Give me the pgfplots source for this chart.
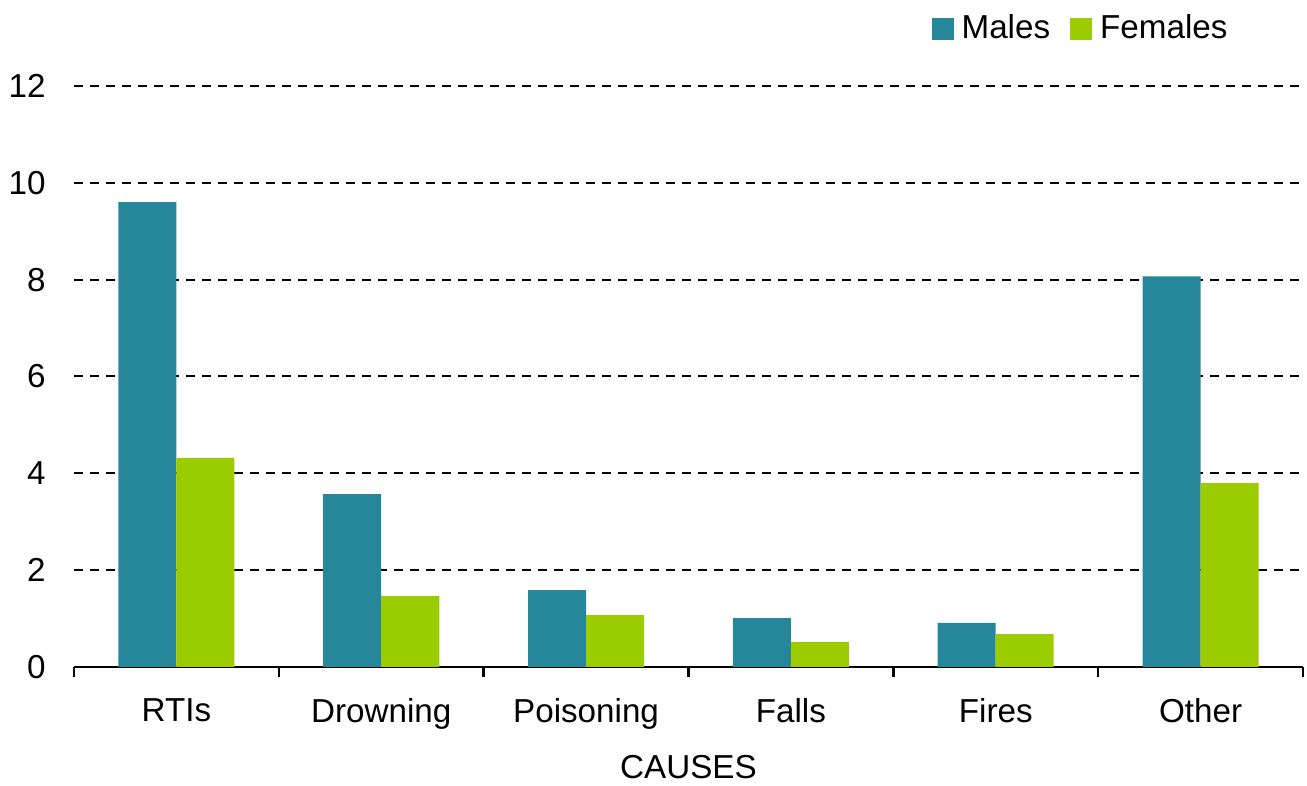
\documentclass[border=0pt]{standalone}
\usepackage{pgfplots}
\pgfplotsset{compat=1.18}
\usepackage{fontspec}
\setmainfont{Liberation Sans}
\definecolor{males}{HTML}{26869A}
\definecolor{females}{HTML}{9BCC00}
\begin{document}
\fontsize{16.6}{19}\selectfont
\begin{tikzpicture}
\begin{axis}[
  scale only axis,
  width=614.5pt, height=290.5pt,
  xmin=0, xmax=6, ymin=0, ymax=12,
  clip=false,
  axis x line*=bottom,
  axis y line*=left,
  x axis line style={-, line width=1.3pt, black},
  y axis line style={draw=none},
  xtick={0,1,2,3,4,5,6},
  x tick label as interval,
  xticklabels={RTIs,Drowning,Poisoning,Falls,Fires,Other},
  xtick style={line width=1.2pt, black},
  tick align=outside,
  major tick length=5pt,
  ytick={0,2,4,6,8,10,12},
  ytick style={draw=none},
  yticklabel shift=3.5pt,
  /pgf/number format/assume math mode=true,
  ticklabel style={font=\fontsize{16.6}{19}\selectfont},
  xticklabel style={yshift=-5pt},
  ymajorgrids,
  grid style={black, line width=1pt, dash pattern=on 4.5pt off 3.5pt},
  xlabel={CAUSES},
  xlabel style={font=\fontsize{16.6}{19}\selectfont, yshift=-1.5pt},
  legend columns=2,
  legend style={draw=none, fill=none, at={(0.947,1.137)}, anchor=north east,
    font=\fontsize{16.6}{19}\selectfont, column sep=2pt,
    /tikz/every even column/.append style={column sep=8pt}},
  legend image code/.code={\fill[#1] (0pt,-5.5pt) rectangle (11pt,5.5pt);},
]
\addplot[ybar, bar width=29pt, bar shift=-14.5pt, fill=males, draw=none]
  coordinates {(0.5,9.60) (1.5,3.57) (2.5,1.59) (3.5,1.01) (4.5,0.91) (5.5,8.07)};
\addlegendentry{Males}
\addplot[ybar, bar width=29pt, bar shift=14.5pt, fill=females, draw=none]
  coordinates {(0.5,4.32) (1.5,1.47) (2.5,1.07) (3.5,0.52) (4.5,0.68) (5.5,3.80)};
\addlegendentry{Females}
\coordinate (bl) at (rel axis cs:0,0);
\end{axis}
\pgfresetboundingbox
\path (bl) ++(-37pt,-59.5pt) rectangle ++(653.5pt,393pt);
\end{tikzpicture}
\end{document}
